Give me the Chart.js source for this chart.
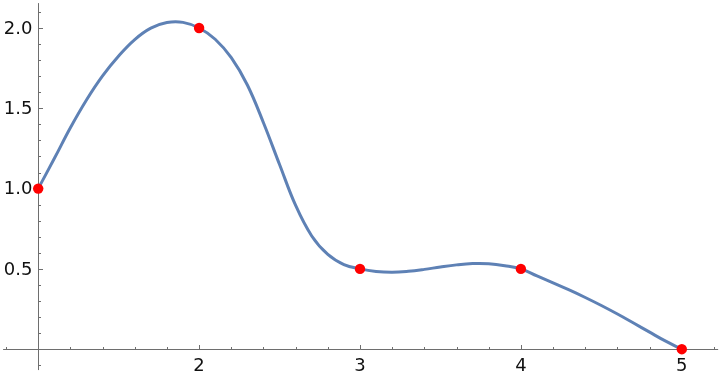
<!DOCTYPE html>
<html>
<head>
<meta charset="utf-8">
<script src="https://cdn.jsdelivr.net/npm/chart.js@4/dist/chart.umd.min.js"></script>
<style>
  html, body { margin: 0; padding: 0; background: #ffffff; }
  #wrap { width: 720px; height: 380px; position: relative; }
</style>
</head>
<body>
<div id="wrap"><canvas id="c" width="720" height="380"></canvas></div>
<script>
// ---- data ----
const pointX = [1, 2, 3, 4, 5];
const pointY = [1, 2, 0.5, 0.5, 0];

const curveX = [1.0, 1.1, 1.2, 1.3, 1.4, 1.5, 1.6, 1.7, 1.8, 1.9,
                2.0, 2.1, 2.2, 2.3, 2.4, 2.5, 2.6, 2.7, 2.8, 2.9,
                3.0, 3.1, 3.2, 3.3, 3.4, 3.5, 3.6, 3.7, 3.8, 3.9,
                4.0, 4.1, 4.2, 4.3, 4.4, 4.5, 4.6, 4.7, 4.8, 4.9, 5.0];
const curveY = [1.000, 1.187, 1.379, 1.552, 1.702, 1.826, 1.928, 1.999, 2.034, 2.035,
                2.000, 1.930, 1.815, 1.645, 1.410, 1.150, 0.895, 0.705, 0.590, 0.527,
                0.500, 0.484, 0.479, 0.485, 0.497, 0.512, 0.525, 0.533, 0.532, 0.520,
                0.500, 0.456, 0.413, 0.369, 0.322, 0.272, 0.219, 0.163, 0.106, 0.050, 0.000];

const xTickValues = [2, 3, 4, 5];
const xTickLabels = ['2', '3', '4', '5'];
const yTickValues = [0.5, 1.0, 1.5, 2.0];
const yTickLabels = ['0.5', '1.0', '1.5', '2.0'];

// ---- styling / layout constants ----
const X_MIN = 0.7626, X_MAX = 5.2374;
const Y_MIN = -0.1918, Y_MAX = 2.1743;
const AXIS_COLOR = '#6e6e6e';
const FONT = '18px "DejaVu Sans", sans-serif';

const axesPlugin = {
  id: 'mathAxes',
  beforeDatasetsDraw(chart) {
    const ctx = chart.ctx;
    const xs = chart.scales.x, ys = chart.scales.y;
    const X = v => xs.getPixelForValue(v);
    const Y = v => ys.getPixelForValue(v);
    const r = p => Math.round(p) + 0.5;
    const x0 = r(X(1)), y0 = r(Y(0));
    ctx.save();
    ctx.strokeStyle = AXIS_COLOR;
    ctx.lineWidth = 1;
    // axis lines
    ctx.beginPath();
    ctx.moveTo(X(0.782), y0); ctx.lineTo(X(5.226), y0);
    ctx.moveTo(x0, Y(2.155)); ctx.lineTo(x0, Y(-0.13));
    ctx.stroke();
    // x ticks (every 0.2, major at integers)
    ctx.beginPath();
    for (let i = 4; i <= 26; i++) {
      const v = i / 5;
      if (Math.abs(v - 1) < 1e-9) continue;
      const major = Math.abs(v - Math.round(v)) < 1e-9;
      const px = r(X(v));
      ctx.moveTo(px, y0);
      ctx.lineTo(px, y0 - (major ? 4.5 : 2.5));
    }
    // y ticks (every 0.1, major at 0.5)
    for (let i = -1; i <= 21; i++) {
      const v = i / 10;
      if (i === 0) continue;
      const major = i % 5 === 0;
      const py = r(Y(v));
      ctx.moveTo(x0, py);
      ctx.lineTo(x0 + (major ? 4.5 : 2.5), py);
    }
    ctx.stroke();
    // labels
    ctx.fillStyle = '#111111';
    ctx.font = FONT;
    ctx.textAlign = 'center';
    ctx.textBaseline = 'middle';
    xTickValues.forEach((v, i) => ctx.fillText(xTickLabels[i], X(v), y0 + 17));
    ctx.textAlign = 'right';
    yTickValues.forEach((v, i) => ctx.fillText(yTickLabels[i], x0 - 6, Y(v) + 1));
    ctx.restore();
  }
};

new Chart(document.getElementById('c'), {
  type: 'line',
  data: {
    datasets: [
      {
        label: 'curve',
        data: curveX.map((x, i) => ({ x, y: curveY[i] })),
        borderColor: '#5e81b5',
        borderWidth: 3,
        pointRadius: 0,
        tension: 0.4,
        fill: false,
        clip: false,
        order: 2
      },
      {
        label: 'points',
        data: pointX.map((x, i) => ({ x, y: pointY[i] })),
        showLine: false,
        pointRadius: 5.2,
        pointBackgroundColor: '#ff0000',
        pointBorderColor: '#ff0000',
        pointBorderWidth: 0,
        clip: false,
        order: 1
      }
    ]
  },
  options: {
    responsive: false,
    animation: false,
    layout: { padding: 0, autoPadding: false },
    plugins: { legend: { display: false }, tooltip: { enabled: false } },
    scales: {
      x: { type: 'linear', min: X_MIN, max: X_MAX, display: false },
      y: { type: 'linear', min: Y_MIN, max: Y_MAX, display: false }
    }
  },
  plugins: [axesPlugin]
});
</script>
</body>
</html>
